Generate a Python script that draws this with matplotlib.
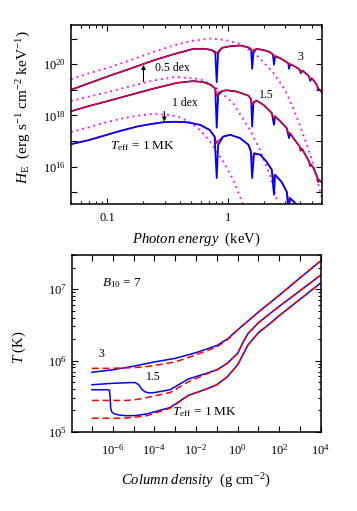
import numpy as np
import matplotlib
matplotlib.use("Agg")
import matplotlib.pyplot as plt
from matplotlib.ticker import LogLocator, FuncFormatter, NullLocator, NullFormatter

plt.rcParams['font.family'] = ['Liberation Serif', 'DejaVu Serif']
plt.rcParams['mathtext.fontset'] = 'custom'
plt.rcParams['mathtext.rm'] = 'Liberation Serif'
plt.rcParams['mathtext.it'] = 'Liberation Serif:italic'

# ---------- TOP PANEL DATA (log10 H_E) ----------
e_3 = [0.05, 0.07, 0.105, 0.15, 0.24, 0.35, 0.52, 0.65, 0.74, 0.79, 0.812, 0.835, 0.9, 1.05, 1.27, 1.49,
       1.57, 1.60, 1.64, 1.74, 2.0, 2.25, 2.38, 2.43, 2.48, 2.7, 3.1, 3.2, 3.24, 3.3, 3.5, 3.9, 4.0, 4.05,
       4.2, 4.7, 4.8, 4.86, 5.0, 5.2, 5.5, 5.6, 5.67, 5.8, 6.05]
h_3_blue = [19.00, 19.25, 19.55, 19.80, 20.14, 20.38, 20.60, 20.60, 20.55, 20.45, 19.30, 20.45, 20.64, 20.70,
            20.73, 20.66, 20.55, 19.82, 20.45, 20.60, 20.55, 20.47, 20.38, 19.98, 20.30, 20.25, 20.08, 20.02,
            19.82, 19.98, 19.95, 19.82, 19.75, 19.65, 19.75, 19.55, 19.45, 19.35, 19.45, 19.36, 19.20, 19.10,
            18.98, 19.02, 18.90]
h_3_red = [19.00, 19.25, 19.55, 19.80, 20.14, 20.38, 20.60, 20.60, 20.55, 20.50, 20.40, 20.50, 20.64, 20.70,
           20.73, 20.66, 20.60, 20.50, 20.56, 20.60, 20.55, 20.47, 20.40, 20.28, 20.34, 20.25, 20.08, 20.05,
           19.98, 20.02, 19.95, 19.82, 19.78, 19.70, 19.75, 19.55, 19.48, 19.42, 19.45, 19.36, 19.20, 19.12,
           19.05, 19.02, 18.90]

e_15 = [0.05, 0.07, 0.105, 0.15, 0.24, 0.38, 0.52, 0.63, 0.72, 0.79, 0.812, 0.835, 0.9, 0.98, 1.19, 1.49,
        1.57, 1.60, 1.64, 1.74, 2.0, 2.33, 2.43, 2.48, 2.7, 3.1, 3.24, 3.3, 3.6, 3.95, 4.05, 4.15, 4.5, 4.75,
        4.86, 4.95, 5.2, 5.55, 5.67, 5.75, 6.05]
h_15_blue = [18.16, 18.36, 18.58, 18.78, 19.04, 19.27, 19.34, 19.30, 19.20, 19.05, 17.52, 18.80, 18.95, 18.98,
             18.93, 18.77, 18.62, 17.56, 18.50, 18.58, 18.40, 18.09, 17.63, 17.96, 17.80, 17.50, 17.11, 17.30,
             17.05, 16.80, 16.62, 16.70, 16.40, 16.20, 16.02, 16.08, 15.92, 15.60, 15.40, 15.48, 15.38]
h_15_red = [18.16, 18.36, 18.58, 18.78, 19.04, 19.27, 19.34, 19.30, 19.20, 19.05, 18.73, 18.90, 18.95, 18.98,
            18.93, 18.77, 18.65, 18.40, 18.52, 18.58, 18.40, 18.09, 17.88, 17.98, 17.80, 17.50, 17.28, 17.32,
            17.05, 16.80, 16.65, 16.70, 16.40, 16.20, 16.05, 16.08, 15.92, 15.60, 15.45, 15.48, 15.38]

e_1 = [0.05, 0.07, 0.093, 0.13, 0.176, 0.23, 0.29, 0.37, 0.46, 0.59, 0.71, 0.78, 0.812, 0.835, 0.92, 1.05,
       1.27, 1.49, 1.56, 1.60, 1.66, 1.87, 2.1, 2.33, 2.43, 2.48, 2.8, 3.1, 3.24, 3.3, 3.7, 4.2]
h_1_blue = [16.875, 17.03, 17.20, 17.40, 17.56, 17.66, 17.73, 17.75, 17.73, 17.63, 17.43, 17.17, 15.55, 16.85,
            17.17, 17.24, 17.11, 16.85, 16.59, 15.55, 16.52, 16.46, 16.20, 15.87, 14.90, 15.68, 15.41, 15.02,
            14.00, 14.77, 14.54, 14.20]
h_1_red = [16.875, 17.03, 17.20, 17.40, 17.56, 17.66, 17.73, 17.75, 17.73, 17.63, 17.43, 17.17, 16.91, 17.00,
           17.17, 17.24, 17.11, 16.85, 16.62, 16.26, 16.50, 16.46, 16.20, 15.87, 15.45, 15.66, 15.41, 15.02,
           14.60, 14.77, 14.54, 14.20]

# blackbody spectra (dotted)
e_bb3 = [0.05, 0.07, 0.105, 0.15, 0.24, 0.36, 0.52, 0.72, 0.95, 1.27, 1.74, 2.38, 3.0, 3.5, 4.0, 5.0, 6.05]
h_bb3 = [19.41, 19.64, 19.88, 20.13, 20.47, 20.74, 20.92, 21.00, 20.95, 20.79, 20.36, 19.69, 19.00, 18.30,
         17.60, 16.30, 14.80]
e_bb15 = [0.05, 0.07, 0.105, 0.15, 0.24, 0.37, 0.59, 0.8, 1.11, 1.53, 1.86, 2.25, 2.6, 2.8]
h_bb15 = [18.56, 18.73, 18.93, 19.12, 19.36, 19.50, 19.42, 19.08, 18.48, 17.45, 16.65, 15.65, 14.60, 14.00]
e_bb1 = [0.05, 0.07, 0.093, 0.13, 0.176, 0.243, 0.33, 0.40, 0.48, 0.59, 0.71, 0.92, 1.11, 1.3, 1.4]
h_bb1 = [17.35, 17.53, 17.70, 17.87, 17.98, 18.06, 18.01, 17.92, 17.74, 17.43, 17.00, 16.20, 15.50, 14.70, 14.30]

# ---------- BOTTOM PANEL DATA (log10 column density, log10 T) ----------
m_3_blue = [-7, -6, -5, -4.5, -4, -3, -2, -1, -0.5, 0, 1, 2, 3, 4]
t_3_blue = [5.835, 5.87, 5.92, 5.95, 5.98, 6.03, 6.11, 6.21, 6.30, 6.43, 6.68, 6.915, 7.16, 7.40]
m_3_red = [-7, -6, -5, -4.5, -4, -3, -2, -1, -0.5, 0, 1, 2, 3, 4]
t_3_red = [5.89, 5.89, 5.90, 5.91, 5.93, 5.98, 6.08, 6.19, 6.29, 6.43, 6.68, 6.915, 7.16, 7.40]

m_15_blue = [-7, -6, -5.2, -4.93, -4.75, -4.61, -4.45, -4.25, -4.0, -3.25, -2.37, -1.5, -1, -0.5, 0, 0.25,
             0.5, 1, 1.56, 2, 3, 4]
t_15_blue = [5.66, 5.68, 5.69, 5.69, 5.66, 5.60, 5.56, 5.545, 5.55, 5.59, 5.74, 5.82, 5.87, 5.96, 6.10, 6.25,
             6.38, 6.53, 6.66, 6.76, 6.98, 7.20]
m_15_red = [-7, -6, -5.33, -4.8, -4.37, -3.25, -2.37, -1.5, -1, -0.5, 0, 0.25, 0.5, 1, 1.56, 2, 3, 4]
t_15_red = [5.44, 5.44, 5.44, 5.455, 5.48, 5.55, 5.70, 5.81, 5.865, 5.96, 6.10, 6.25, 6.38, 6.53, 6.66, 6.76,
            6.98, 7.20]

m_1_blue = [-7, -6.3, -6.16, -6.13, -6.10, -6.05, -5.95, -5.7, -5.33, -4.9, -4.37, -3.25, -2.37, -1.5, -1,
            -0.5, 0, 0.25, 0.5, 1, 1.56, 2, 3, 4]
t_1_blue = [5.59, 5.59, 5.585, 5.50, 5.33, 5.28, 5.255, 5.235, 5.225, 5.228, 5.25, 5.34, 5.51, 5.60, 5.66,
            5.77, 5.94, 6.08, 6.22, 6.39, 6.52, 6.63, 6.86, 7.09]
m_1_red = [-7, -6, -5.5, -4.9, -4.37, -3.25, -2.37, -1.5, -1, -0.5, 0, 0.25, 0.5, 1, 1.56, 2, 3, 4]
t_1_red = [5.19, 5.19, 5.19, 5.205, 5.225, 5.33, 5.51, 5.60, 5.66, 5.77, 5.94, 6.08, 6.22, 6.39, 6.52, 6.63,
           6.86, 7.09]

BLUE = '#0000ff'
RED = '#ff0000'
MAG = '#ff00ff'


def p10(vals):
    return np.power(10.0, np.array(vals, dtype=float))


def sci_even(val, pos):
    ex = int(round(np.log10(val)))
    if ex % 2:
        return ''
    return r'$10^{%d}$' % ex


def style_axes(ax):
    ax.tick_params(which='both', direction='in', top=True, right=True, labelsize=9, width=0.8)
    ax.tick_params(which='major', length=4)
    ax.tick_params(which='minor', length=2.2)
    ax.tick_params(axis='x', which='major', pad=6)
    for s in ax.spines.values():
        s.set_linewidth(1.1)


fig = plt.figure(figsize=(3.57, 5.11), dpi=100)

# ---------- TOP PANEL ----------
ax1 = fig.add_axes([0.199, 0.601, 0.702, 0.350])
for ee, hh in [(e_bb3, h_bb3), (e_bb15, h_bb15), (e_bb1, h_bb1)]:
    ax1.plot(ee, p10(hh), color=MAG, lw=1.3, ls=(0, (1, 2.2)))
for ee, hb, hr in [(e_3, h_3_blue, h_3_red), (e_15, h_15_blue, h_15_red)]:
    ax1.plot(ee, p10(hb), color=BLUE, lw=1.3)
    ax1.plot(ee, p10(hr), color=RED, lw=0.9)
# the 1 MK model: red only shows at the absorption features
ax1.plot(e_1, p10(h_1_red), color=RED, lw=1.0)
ax1.plot(e_1, p10(h_1_blue), color=BLUE, lw=1.3)

ax1.set_xscale('log')
ax1.set_yscale('log')
ax1.set_xlim(0.05, 6.05)
ax1.set_ylim(10**14.54, 10**21.53)
ax1.xaxis.set_major_formatter(FuncFormatter(lambda v, p: '%g' % v))
ax1.xaxis.set_minor_formatter(NullFormatter())
ax1.yaxis.set_major_locator(LogLocator(base=10, numticks=20))
ax1.yaxis.set_major_formatter(FuncFormatter(sci_even))
ax1.yaxis.set_minor_locator(NullLocator())
style_axes(ax1)
ax1.set_xlabel(r'$Photon\ energy$  (keV)', fontsize=10.5)
ax1.xaxis.set_label_coords(0.5, -0.15)
ax1.set_ylabel(r'$H_{\rm E}$  (erg s$^{-1}$ cm$^{-2}$ keV$^{-1}$)', fontsize=11)
ax1.yaxis.set_label_coords(-0.15, 0.54)

ax1.annotate('', xy=(0.2, 10**19.97), xytext=(0.2, 10**19.32),
             arrowprops=dict(arrowstyle='-|>', lw=0.8, color='black', mutation_scale=6, shrinkA=0, shrinkB=0))
ax1.annotate('', xy=(0.298, 10**17.76), xytext=(0.298, 10**18.15),
             arrowprops=dict(arrowstyle='-|>', lw=0.8, color='black', mutation_scale=6, shrinkA=0, shrinkB=0))
ax1.text(0.249, 10**19.84, '0.5 dex', fontsize=8.5, va='center', ha='left')
ax1.text(0.343, 10**18.48, '1 dex', fontsize=8.5, va='center', ha='left')
ax1.text(4.0, 10**20.27, '3', fontsize=8.5, va='center', ha='center')
ax1.text(2.11, 10**18.80, '1.5', fontsize=8.5, va='center', ha='center')
ax1.text(0.105, 10**16.78, r'$T_{\rm eff}$ = 1 MK', fontsize=9.5, va='center', ha='left')

# ---------- BOTTOM PANEL ----------
ax2 = fig.add_axes([0.201, 0.155, 0.698, 0.346])
for mb, tb, mr, tr in [(m_3_blue, t_3_blue, m_3_red, t_3_red),
                       (m_15_blue, t_15_blue, m_15_red, t_15_red),
                       (m_1_blue, t_1_blue, m_1_red, t_1_red)]:
    ax2.plot(p10(mb), p10(tb), color=BLUE, lw=1.1)
    ax2.plot(p10(mr), p10(tr), color=RED, lw=1.1, ls=(0, (4.5, 2.5)))

ax2.set_xscale('log')
ax2.set_yscale('log')
ax2.set_xlim(10**-7.97, 10**4.0)
ax2.set_ylim(1e5, 10**7.48)
ax2.xaxis.set_major_locator(LogLocator(base=10, numticks=30))
ax2.xaxis.set_major_formatter(FuncFormatter(sci_even))
ax2.xaxis.set_minor_locator(NullLocator())
ax2.yaxis.set_major_formatter(FuncFormatter(lambda v, p: r'$10^{%d}$' % int(round(np.log10(v)))))
ax2.yaxis.set_minor_locator(LogLocator(base=10, subs=np.arange(2, 10), numticks=20))
ax2.yaxis.set_minor_formatter(NullFormatter())
style_axes(ax2)
ax2.tick_params(axis='x', which='major', pad=8)
ax2.set_xlabel(r'$Column\ density$  (g cm$^{-2}$)', fontsize=10.5)
ax2.xaxis.set_label_coords(0.5, -0.225)
ax2.set_ylabel(r'$T$ (K)', fontsize=10.5)
ax2.yaxis.set_label_coords(-0.175, 0.48)

ax2.text(10**-6.53, 10**7.08, r'$B_{10}$ = 7', fontsize=9.5, va='center', ha='left')
ax2.text(10**-6.53, 10**6.085, '3', fontsize=8.5, va='center', ha='center')
ax2.text(10**-4.05, 10**5.765, '1.5', fontsize=8.5, va='center', ha='center')
ax2.text(10**-3.16, 10**5.27, r'$T_{\rm eff}$ = 1 MK', fontsize=9.5, va='center', ha='left')

fig.savefig('out.png', dpi=100)
